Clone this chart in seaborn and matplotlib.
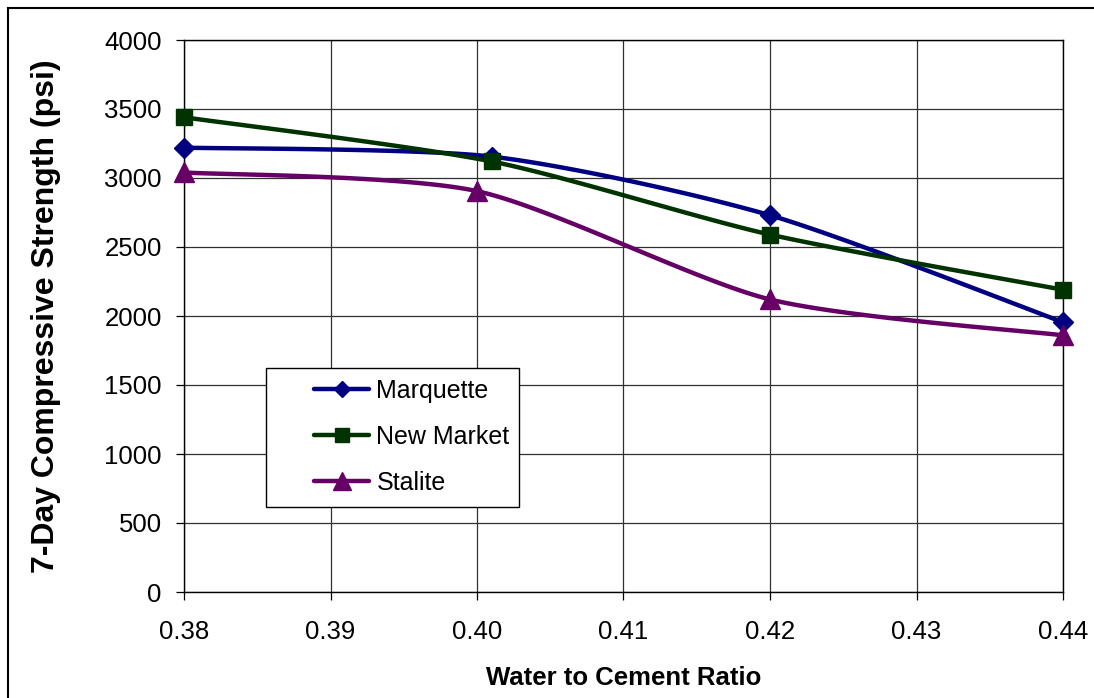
import numpy as np
import pandas as pd
import matplotlib
matplotlib.use("Agg")
import matplotlib.pyplot as plt
from matplotlib.lines import Line2D
from matplotlib.patches import Rectangle
import seaborn as sns

# Water-to-cement ratio of each mix, per aggregate source
x_marquette = [0.380, 0.401, 0.420, 0.440]
x_new_market = [0.380, 0.401, 0.420, 0.440]
x_stalite = [0.380, 0.400, 0.420, 0.440]

# 7-day compressive strength (psi) per aggregate source
marquette = [3220, 3155, 2730, 1955]
new_market = [3440, 3120, 2590, 2190]
stalite = [3040, 2905, 2120, 1860]

series_names = ["Marquette", "New Market", "Stalite"]
series_x = [x_marquette, x_new_market, x_stalite]
series_values = [marquette, new_market, stalite]
series_colors = ["#000080", "#003300", "#660066"]
series_markers = ["D", "s", "^"]
series_msize = [10, 12, 15]

x_ticks = [0.38, 0.39, 0.40, 0.41, 0.42, 0.43, 0.44]
y_ticks = [0, 500, 1000, 1500, 2000, 2500, 3000, 3500, 4000]

XMIN, XMAX, YMIN, YMAX = 0.38, 0.44, 0, 4000
AX_W_PX, AX_H_PX = 879, 552
TENSION = 1.0 / 8.0


def smooth_curve(xs, ys, n=40):
    """Bezier smoothing through the points (computed in screen proportions)."""
    px = (np.asarray(xs) - XMIN) / (XMAX - XMIN) * AX_W_PX
    py = (np.asarray(ys) - YMIN) / (YMAX - YMIN) * AX_H_PX
    pts = np.column_stack([px, py])
    out = []
    m = len(pts)
    t = np.linspace(0, 1, n)[:, None]
    for i in range(m - 1):
        p0, p3 = pts[i], pts[i + 1]
        prev = pts[i - 1] if i > 0 else pts[i]
        nxt = pts[i + 2] if i + 2 < m else pts[i + 1]
        c1 = p0 + (p3 - prev) * TENSION
        c2 = p3 - (nxt - p0) * TENSION
        seg = ((1 - t) ** 3) * p0 + 3 * ((1 - t) ** 2) * t * c1 + 3 * (1 - t) * t ** 2 * c2 + t ** 3 * p3
        if i > 0:
            seg = seg[1:]
        out.append(seg)
    out = np.vstack(out)
    cx = out[:, 0] / AX_W_PX * (XMAX - XMIN) + XMIN
    cy = out[:, 1] / AX_H_PX * (YMAX - YMIN) + YMIN
    return cx, cy


sns.set_theme(style="white")
plt.rcParams["font.family"] = ["Liberation Sans", "DejaVu Sans"]
plt.rcParams.update({
    "text.color": "black",
    "axes.labelcolor": "black",
    "xtick.color": "black",
    "ytick.color": "black",
})

fig = plt.figure(figsize=(10.94, 6.98), dpi=100)
ax = fig.add_axes([184 / 1094, 1 - 592 / 698, (1063 - 184) / 1094, (592 - 40) / 698])

# Grid
for xv in x_ticks:
    ax.axvline(xv, color="#303030", lw=0.9, zorder=1)
for yv in y_ticks:
    ax.axhline(yv, color="#303030", lw=0.9, zorder=1)

for name, xs, vals, col, mk, ms in zip(series_names, series_x, series_values,
                                       series_colors, series_markers, series_msize):
    cx, cy = smooth_curve(xs, vals)
    curve = pd.DataFrame({"x": cx, "y": cy})
    sns.lineplot(data=curve, x="x", y="y", ax=ax, color=col, lw=3.2,
                 sort=False, estimator=None, zorder=3)
    pts = pd.DataFrame({"x": xs, "y": vals})
    ax.plot(pts["x"], pts["y"], linestyle="none", marker=mk, markersize=ms,
            color=col, markeredgecolor=col, zorder=4, clip_on=False)

ax.set_xlim(XMIN, XMAX)
ax.set_ylim(YMIN, YMAX)
ax.set_xticks(x_ticks)
ax.set_xticklabels([f"{v:.2f}" for v in x_ticks])
ax.set_yticks(y_ticks)
ax.set_yticklabels([str(v) for v in y_ticks])
ax.tick_params(axis="both", which="major", labelsize=18.5, colors="black",
               direction="out", length=6, width=0.9)
ax.tick_params(axis="y", pad=10, left=True)
ax.tick_params(axis="x", pad=14, bottom=True)
for sp in ax.spines.values():
    sp.set_color("black")
    sp.set_linewidth(1.0)

ax.set_xlabel("Water to Cement Ratio", fontsize=18.5, fontweight="bold", labelpad=16)
ax.set_ylabel("7-Day Compressive Strength (psi)", fontsize=23, fontweight="bold",
              labelpad=31)

# Legend frame and entries
ax.add_patch(Rectangle(((266 - 184) / 879, (592 - 507) / 552),
                       (519 - 266) / 879, (507 - 368) / 552,
                       transform=ax.transAxes, facecolor="white",
                       edgecolor="black", lw=1.0, zorder=5))
handles = [Line2D([0], [0], color=c, lw=3.2, marker=m, markersize=s * 0.85,
                  markeredgecolor=c)
           for c, m, s in zip(series_colors, series_markers, series_msize)]
leg = ax.legend(handles, series_names, loc="upper left",
                bbox_to_anchor=((314 - 184) / 879, (592 - 379) / 552),
                frameon=False, fontsize=18, handlelength=2.2,
                handletextpad=0.3, labelspacing=0.87, borderaxespad=0,
                borderpad=0)
leg.set_zorder(6)

# Outer chart border
fig.patches.append(Rectangle((8 / 1094, -0.2), 1.5, 1 - 8 / 698 + 0.2,
                             transform=fig.transFigure, fill=False,
                             edgecolor="black", lw=1.5))

fig.savefig("out.png", dpi=100)
